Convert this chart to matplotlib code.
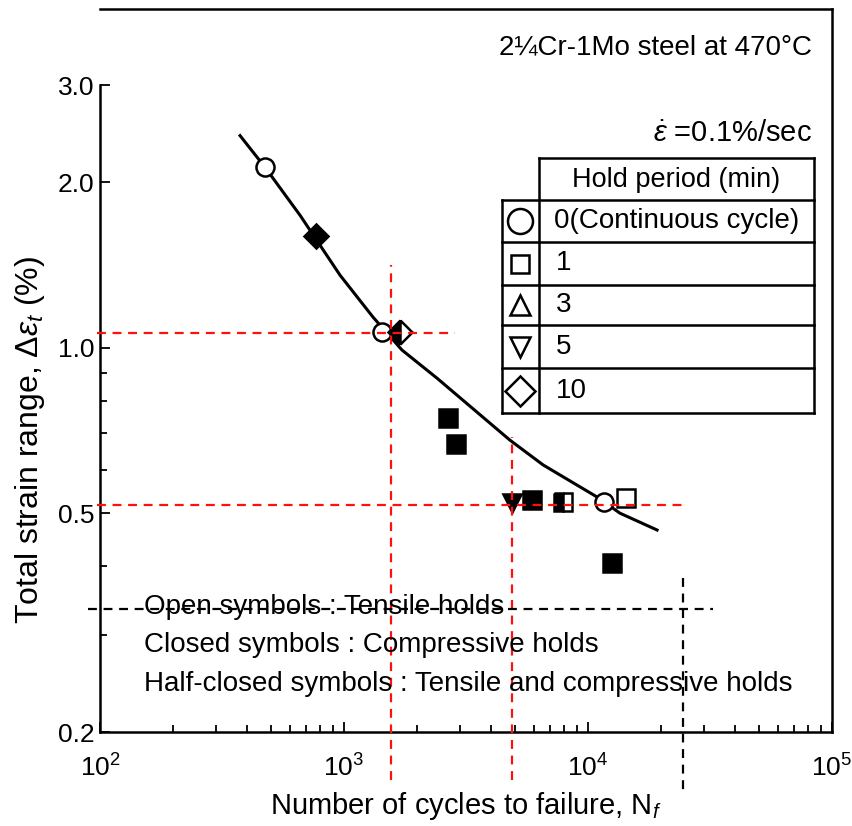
import matplotlib
matplotlib.use("Agg")
import matplotlib.pyplot as plt
from matplotlib.lines import Line2D
from matplotlib.ticker import FixedLocator, NullFormatter, LogLocator

plt.rcParams['font.family'] = ['Liberation Sans', 'DejaVu Sans']
plt.rcParams['mathtext.fontset'] = 'custom'
plt.rcParams['mathtext.rm'] = 'Liberation Sans'
plt.rcParams['mathtext.it'] = 'Liberation Sans:italic'

# ---- data ----
# Continuous cycle (open circles)
cont_N = [474, 1432, 11640]
cont_strain = [2.13, 1.07, 0.524]
# 1 min hold, tensile (open squares)
h1_open_N = [14330]
h1_open_strain = [0.532]
# 1 min hold, compressive (closed squares)
h1_closed_N = [2667, 2877, 5894, 12540]
h1_closed_strain = [0.745, 0.668, 0.528, 0.406]
# 1 min hold, tensile + compressive (half-closed square)
h1_half_N = [7900]
h1_half_strain = [0.524]
# 5 min hold, compressive (closed down triangle)
h5_closed_N = [4888]
h5_closed_strain = [0.521]
# 10 min hold, compressive (closed diamond)
h10_closed_N = [767]
h10_closed_strain = [1.595]
# 10 min hold, tensile + compressive (half-closed diamond)
h10_half_N = [1698]
h10_half_strain = [1.07]

# best-fit curve
curve_N = [375, 474, 661, 963, 1316, 1729, 2406, 4786, 6546, 10900, 13520, 19190]
curve_strain = [2.43, 2.13, 1.74, 1.355, 1.136, 0.990, 0.880, 0.679, 0.612, 0.535, 0.500, 0.466]

# annotation guide lines (dashed)
red_h_strain = [1.063, 0.517]
red_h_Nend = [2850, 25700]
red_h_Nstart = 97.2
red_v_N = [1560, 4888]
red_v_top = [1.413, 0.687]
red_v_bottom = 0.1636
black_h_strain = 0.335
black_h_N = [89.3, 32500]
black_v_N = 24500
black_v_strain = [0.381, 0.157]

y_ticks = [0.2, 0.5, 1.0, 2.0, 3.0]
y_ticklabels = ['0.2', '0.5', '1.0', '2.0', '3.0']
x_ticks = [1e2, 1e3, 1e4, 1e5]
x_ticklabels = [r'$10^2$', r'$10^3$', r'$10^4$', r'$10^5$']

hold_labels = ['0(Continuous cycle)', '1', '3', '5', '10']
hold_markers = ['o', 's', '^', 'v', 'D']

W, H = 853, 826
fig = plt.figure(figsize=(W / 100, H / 100), dpi=100)
ax = fig.add_axes([100 / W, 1 - 732 / H, 732 / W, 723 / H])
ax.set_xscale('log')
ax.set_yscale('log')
ax.set_xlim(1e2, 1e5)
ax.set_ylim(0.2, 4.13)

# curve
ax.plot(curve_N, curve_strain, color='black', lw=2.2, zorder=2)

mk = dict(color='black', markeredgewidth=1.8, linestyle='none', zorder=4)
ax.plot(cont_N, cont_strain, marker='o', ms=13, markerfacecolor='white', **mk)
ax.plot(h1_open_N, h1_open_strain, marker='s', ms=12.5, markerfacecolor='white', **mk)
ax.plot(h1_closed_N, h1_closed_strain, marker='s', ms=12.5, markerfacecolor='black', **mk)
ax.plot(h1_half_N, h1_half_strain, marker='s', ms=12.5, fillstyle='left',
        markerfacecolor='black', markerfacecoloralt='white', **mk)
ax.plot(h5_closed_N, h5_closed_strain, marker='v', ms=13, markerfacecolor='black', **mk)
ax.plot(h10_closed_N, h10_closed_strain, marker='D', ms=12.5, markerfacecolor='black', **mk)
ax.plot(h10_half_N, h10_half_strain, marker='D', ms=12.5, fillstyle='left',
        markerfacecolor='black', markerfacecoloralt='white', **mk)

# dashed guide lines (extend beyond the axes)
dash = dict(lw=1.6, linestyle=(0, (4, 3)), clip_on=False, zorder=5)
for s, ne in zip(red_h_strain, red_h_Nend):
    ax.plot([red_h_Nstart, ne], [s, s], color='#ff1010', **dash)
for n, top in zip(red_v_N, red_v_top):
    ax.plot([n, n], [red_v_bottom, top], color='#ff1010', **dash)
ax.plot(black_h_N, [black_h_strain, black_h_strain], color='black', **dash)
ax.plot([black_v_N, black_v_N], black_v_strain, color='black', **dash)

# axes styling
for sp in ax.spines.values():
    sp.set_linewidth(1.8)
ax.spines['left'].set_bounds(0.2, 3.0)
ax.yaxis.set_major_locator(FixedLocator(y_ticks))
ax.set_yticklabels(y_ticklabels)
ax.yaxis.set_minor_locator(FixedLocator([0.3, 0.4, 0.6, 0.7, 0.8, 0.9]))
ax.yaxis.set_minor_formatter(NullFormatter())
ax.xaxis.set_major_locator(FixedLocator(x_ticks))
ax.set_xticklabels(x_ticklabels)
ax.xaxis.set_minor_locator(LogLocator(base=10, subs=range(2, 10)))
ax.xaxis.set_minor_formatter(NullFormatter())
ax.tick_params(which='both', direction='in', width=1.3, labelsize=19)
ax.tick_params(which='major', length=7)
ax.tick_params(which='minor', length=5)
ax.tick_params(axis='x', pad=16)
ax.tick_params(axis='y', pad=4)

ax.set_xlabel('Number of cycles to failure, N$_f$', fontsize=21, labelpad=6)


def fp(x, y):
    return (x / W, 1 - y / H)


fig.text(*fp(30, 440), r'Total strain range, $\Delta\varepsilon_t$ (%)', rotation=90,
         ha='center', va='center', fontsize=23)

fig.text(*fp(812, 47), '2¼Cr-1Mo steel at 470°C', ha='right', va='center', fontsize=20)
fig.text(*fp(812, 133), r'$\dot{\varepsilon}$ =0.1%/sec', ha='right', va='center', fontsize=21)

# legend table
def fline(x0, y0, x1, y1):
    (a, b), (c, d) = fp(x0, y0), fp(x1, y1)
    fig.add_artist(Line2D([a, c], [b, d], color='black', lw=1.8, transform=fig.transFigure))

tl, tc, tr = 502, 539, 814
rows = [200, 242, 285, 325, 368, 413]
fline(tc, 158, tr, 158)
fline(tc, 158, tc, rows[-1])
fline(tr, 158, tr, rows[-1])
fline(tl, rows[0], tl, rows[-1])
for r in rows:
    fline(tl, r, tr, r)
fig.text(*fp((tc + tr) / 2, 180), 'Hold period (min)', ha='center', va='center', fontsize=19.5)
marker_ms = {'o': 18, 's': 13, '^': 14, 'v': 14, 'D': 15}
for i, (lab, m) in enumerate(zip(hold_labels, hold_markers)):
    yc = (rows[i] + rows[i + 1]) / 2
    fig.text(*fp(556 if i else 554, yc), lab, ha='left', va='center', fontsize=20)
    fig.add_artist(Line2D([fp(520, yc)[0]], [fp(520, yc)[1]], marker=m,
                          ms=marker_ms[m], markerfacecolor='white',
                          markeredgecolor='black', markeredgewidth=1.8,
                          linestyle='none', transform=fig.transFigure))

notes = ['Open symbols : Tensile holds',
         'Closed symbols : Compressive holds',
         'Half-closed symbols : Tensile and compressive holds']
for i, t in enumerate(notes):
    fig.text(*fp(144, 607 + 38.5 * i), t, ha='left', va='center', fontsize=20)

fig.savefig('out.png', dpi=100)
